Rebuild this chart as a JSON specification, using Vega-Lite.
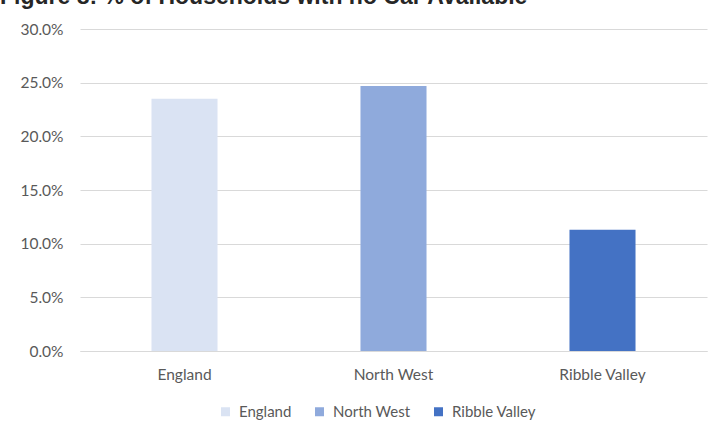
{
  "$schema": "https://vega.github.io/schema/vega-lite/v6.json",
  "autosize": "none",
  "width": 627,
  "height": 322,
  "padding": {"left": 80, "top": 29, "right": 11, "bottom": 81},
  "background": "white",
  "title": {
    "text": "Figure 8: % of Households with no Car Available",
    "anchor": "start",
    "frame": "group",
    "font": "Liberation Sans",
    "fontSize": 23,
    "fontWeight": "bold",
    "color": "#262626",
    "baseline": "alphabetic",
    "offset": 0,
    "dx": -80,
    "dy": 5
  },
  "data": {
    "values": [
      {"area": "England", "pct": 0.235},
      {"area": "North West", "pct": 0.247},
      {"area": "Ribble Valley", "pct": 0.113}
    ]
  },
  "mark": {"type": "bar"},
  "encoding": {
    "x": {
      "field": "area",
      "type": "nominal",
      "sort": null,
      "scale": {"paddingInner": 0.684, "paddingOuter": 0.342},
      "axis": {
        "title": null,
        "labelAngle": 0,
        "labelFont": "Lato",
        "labelFontSize": 15.5,
        "labelColor": "#595959",
        "labelPadding": 16,
        "ticks": false,
        "domainColor": "#d9d9d9",
        "domainWidth": 1,
        "grid": false
      }
    },
    "y": {
      "field": "pct",
      "type": "quantitative",
      "scale": {"domain": [0, 0.3], "nice": false},
      "axis": {
        "title": null,
        "values": [0, 0.05, 0.1, 0.15, 0.2, 0.25, 0.3],
        "format": ".1%",
        "labelFont": "Lato",
        "labelFontSize": 15.5,
        "labelColor": "#595959",
        "labelPadding": 17,
        "ticks": false,
        "domain": false,
        "gridColor": "#d9d9d9",
        "gridWidth": 1
      }
    },
    "color": {
      "field": "area",
      "type": "nominal",
      "sort": null,
      "scale": {
        "domain": ["England", "North West", "Ribble Valley"],
        "range": ["#dae3f3", "#8faadc", "#4472c4"]
      },
      "legend": {
        "title": null,
        "orient": "none",
        "direction": "horizontal",
        "legendX": 138,
        "legendY": 375,
        "symbolType": "square",
        "symbolSize": 81,
        "symbolStrokeWidth": 0,
        "labelFont": "Lato",
        "labelFontSize": 15,
        "labelColor": "#595959",
        "labelOffset": 6,
        "columnPadding": 20
      }
    }
  },
  "config": {
    "view": {"stroke": null}
  }
}
